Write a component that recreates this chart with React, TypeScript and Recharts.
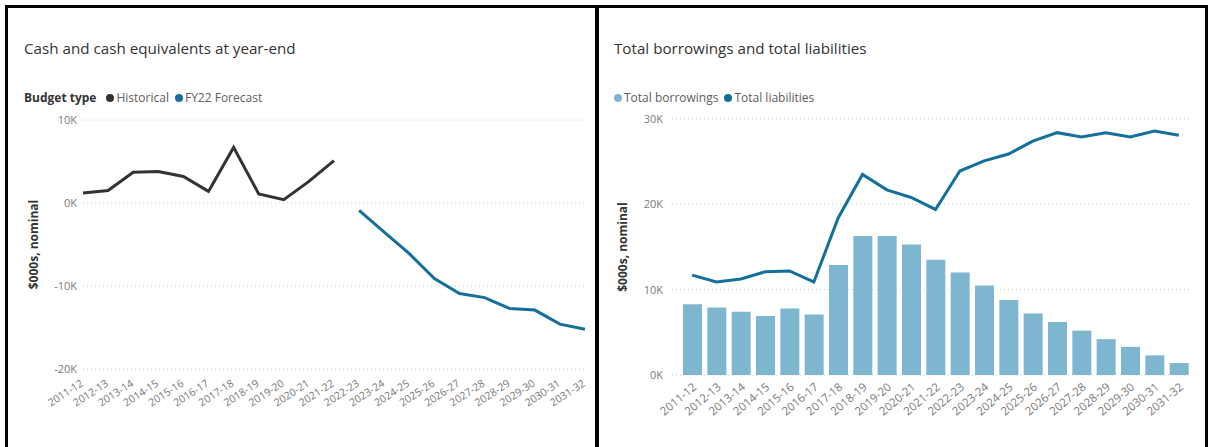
import React from 'react';
import { LineChart, Line, ComposedChart, Bar, XAxis, YAxis, CartesianGrid, Label } from 'recharts';

const years = [
  '2011-12', '2012-13', '2013-14', '2014-15', '2015-16', '2016-17', '2017-18',
  '2018-19', '2019-20', '2020-21', '2021-22', '2022-23', '2023-24', '2024-25',
  '2025-26', '2026-27', '2027-28', '2028-29', '2029-30', '2030-31', '2031-32',
];

// cash at year-end, $000s
const historical = [1200, 1500, 3700, 3800, 3200, 1400, 6700, 1100, 400, 2600, 5100];
const forecast = [-900, -3500, -6100, -9100, -10900, -11400, -12700, -12900, -14600, -15200];

const borrowings = [
  8300, 7900, 7400, 6900, 7800, 7100, 12900, 16300, 16300, 15300, 13500,
  12000, 10500, 8800, 7200, 6200, 5200, 4200, 3300, 2300, 1400,
];
const liabilities = [
  11700, 10900, 11250, 12100, 12200, 10900, 18400, 23500, 21700, 20800, 19400,
  23900, 25100, 25900, 27400, 28400, 27900, 28400, 27900, 28600, 28100,
];

const cashTicks = [-20000, -10000, 0, 10000];
const debtTicks = [0, 10000, 20000, 30000];

const FONT = '"Open Sans", "Noto Sans", sans-serif';
const DARK = '#333333';
const BLUE = '#14709b';
const LIGHT = '#7fb6cf';
const AXIS = '#7a7a7a';

const cashData = years.map((year, i) => ({
  year,
  historical: i < historical.length ? historical[i] : null,
  forecast: i >= historical.length ? forecast[i - historical.length] : null,
}));

const debtData = years.map((year, i) => ({
  year,
  borrowings: borrowings[i],
  liabilities: liabilities[i],
}));

const fmtK = (v: number) => `${v / 1000}K`;

const tickStyle = { fill: AXIS, fontSize: 11, fontFamily: FONT };

function Dot({ color }: { color: string }) {
  return (
    <span
      style={{
        display: 'inline-block',
        width: 8,
        height: 8,
        borderRadius: 4,
        background: color,
        marginRight: 2,
        marginLeft: 6,
      }}
    />
  );
}

function Rule({ left, top, width, height }: { left: number; top: number; width: number; height: number }) {
  return <div style={{ position: 'absolute', left, top, width, height, background: '#000' }} />;
}

const titleStyle: React.CSSProperties = {
  position: 'absolute',
  top: 38,
  fontSize: 15.2,
  lineHeight: '20px',
  color: '#333333',
  fontFamily: FONT,
  whiteSpace: 'nowrap',
};

const legendStyle: React.CSSProperties = {
  position: 'absolute',
  top: 90,
  fontSize: 12,
  lineHeight: '16px',
  color: '#605e5c',
  fontFamily: FONT,
  display: 'flex',
  alignItems: 'center',
  whiteSpace: 'nowrap',
};

export default function App() {
  return (
    <div style={{ position: 'absolute', left: 0, top: 0, width: 1211, height: 447, background: '#fff', overflow: 'hidden' }}>
      <Rule left={5} top={5} width={1203} height={3} />
      <Rule left={5} top={5} width={3} height={442} />
      <Rule left={595} top={5} width={4} height={442} />
      <Rule left={1205} top={5} width={3} height={442} />

      <div style={{ ...titleStyle, left: 24 }}>Cash and cash equivalents at year-end</div>
      <div style={{ ...legendStyle, left: 24 }}>
        <b style={{ color: DARK, marginRight: 4 }}>Budget type</b>
        <Dot color={DARK} />Historical
        <Dot color={BLUE} />FY22 Forecast
      </div>

      <div style={{ ...titleStyle, left: 614 }}>Total borrowings and total liabilities</div>
      <div style={{ ...legendStyle, left: 608 }}>
        <Dot color={LIGHT} />Total borrowings
        <Dot color={BLUE} />Total liabilities
      </div>

      <div style={{ position: 'absolute', left: 0, top: 0 }}>
        <LineChart width={598} height={447} data={cashData} margin={{ top: 120, right: 13, bottom: 0, left: 0 }}>
          <CartesianGrid vertical={false} stroke="#cccccc" strokeDasharray="1 3" />
          <XAxis
            dataKey="year"
            height={78}
            interval={0}
            tickLine={false}
            axisLine={false}
            angle={-33}
            textAnchor="end"
            dx={-3}
            tick={{ ...tickStyle, fontSize: 10.5 }}
            tickMargin={4}
          />
          <YAxis
            width={83}
            domain={[-20000, 10000]}
            ticks={cashTicks}
            tickFormatter={fmtK}
            tickLine={false}
            axisLine={false}
            tickSize={3}
            tickMargin={3}
            tick={tickStyle}
          >
            <Label
              value="$000s, nominal"
              angle={-90}
              position="center"
              dx={-8}
              style={{ fill: DARK, fontSize: 12, fontWeight: 700, fontFamily: FONT, textAnchor: 'middle' }}
            />
          </YAxis>
          <Line dataKey="historical" stroke={DARK} strokeWidth={3} dot={false} isAnimationActive={false} />
          <Line dataKey="forecast" stroke={BLUE} strokeWidth={3} dot={false} isAnimationActive={false} />
        </LineChart>
      </div>

      <div style={{ position: 'absolute', left: 598, top: 0 }}>
        <ComposedChart width={613} height={447} data={debtData} margin={{ top: 119, right: 20, bottom: 0, left: 0 }}>
          <CartesianGrid vertical={false} stroke="#cccccc" strokeDasharray="1 3" />
          <XAxis
            dataKey="year"
            height={72}
            interval={0}
            padding={{ left: 8, right: 0 }}
            tickLine={false}
            axisLine={false}
            angle={-40}
            textAnchor="end"
            tick={{ ...tickStyle, fontSize: 11.5 }}
            tickMargin={1}
          />
          <YAxis
            width={74}
            domain={[0, 30000]}
            ticks={debtTicks}
            tickFormatter={fmtK}
            tickLine={false}
            axisLine={false}
            tickSize={6}
            tickMargin={3}
            tick={tickStyle}
          >
            <Label
              value="$000s, nominal"
              angle={-90}
              position="center"
              dx={-12}
              style={{ fill: DARK, fontSize: 12, fontWeight: 700, fontFamily: FONT, textAnchor: 'middle' }}
            />
          </YAxis>
          <Bar dataKey="borrowings" fill={LIGHT} barSize={19} isAnimationActive={false} />
          <Line dataKey="liabilities" stroke={BLUE} strokeWidth={3} dot={false} isAnimationActive={false} />
        </ComposedChart>
      </div>
    </div>
  );
}
